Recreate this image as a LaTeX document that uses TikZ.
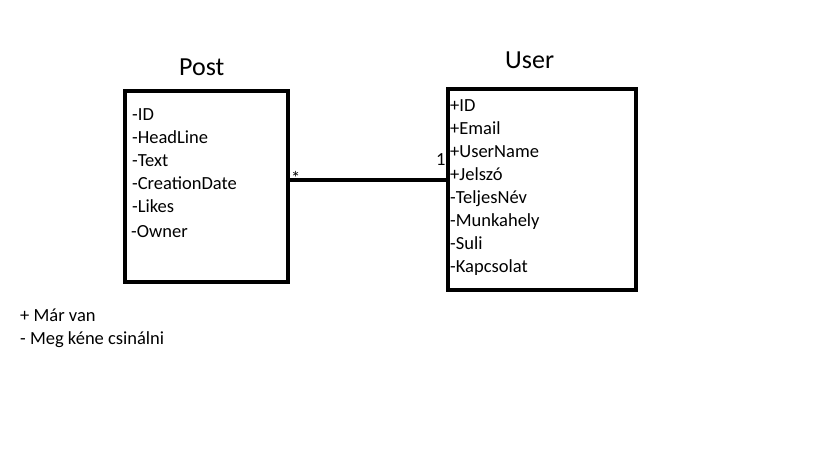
\documentclass[tikz,border=0pt]{standalone}
\usepackage{fontspec}
\setmainfont{Carlito}
\begin{document}
\begin{tikzpicture}[x=1pt,y=-1pt,
  box/.style={draw,line width=4.2pt,inner sep=0pt,anchor=north west},
  attr/.style={anchor=base west,inner sep=0pt,font=\fontsize{18.5}{22}\selectfont},
  title/.style={anchor=base west,inner sep=0pt,font=\fontsize{26}{30}\selectfont},
  conn/.style={line width=4.3pt}]
\useasboundingbox (0,0) rectangle (819,460);
\fill[white] (0,0) rectangle (819,460);
% boxes
\node[box,minimum width=163pt,minimum height=191pt] (post) at (123,89) {};
\node[box,minimum width=188pt,minimum height=201pt] (user) at (446,87) {};
% titles
\node[title] (tpost) at (179,76) {Post};
\node[title] (tuser) at (505,68) {User};
% Post attributes
\node[attr] (p1) at (132,120) {-ID};
\node[attr] (p2) at (132,143) {-HeadLine};
\node[attr] (p3) at (132,166) {-Text};
\node[attr] (p4) at (132,189) {-CreationDate};
\node[attr] (p5) at (132,212) {-Likes};
\node[attr] (p6) at (131,237) {-Owner};
% User attributes
\node[attr] (u1) at (450,111) {+ID};
\node[attr] (u2) at (450,134) {+Email};
\node[attr] (u3) at (450,157) {+UserName};
\node[attr] (u4) at (450,180) {+Jelszó};
\node[attr] (u5) at (450,203) {-TeljesNév};
\node[attr] (u6) at (450,226) {-Munkahely};
\node[attr] (u7) at (450,249) {-Suli};
\node[attr] (u8) at (450,272) {-Kapcsolat};
% connector
\coordinate (ya) at (0,180);
\draw[conn] (post.east |- ya) -- (user.west |- ya);
\node[attr] (star) at (291,184) {*};
\node[attr] (one) at (436,165) {1};
% legend
\node[attr] (l1) at (20,321) {+ Már van};
\node[attr] (l2) at (20,344) {- Meg kéne csinálni};
\end{tikzpicture}
\end{document}
